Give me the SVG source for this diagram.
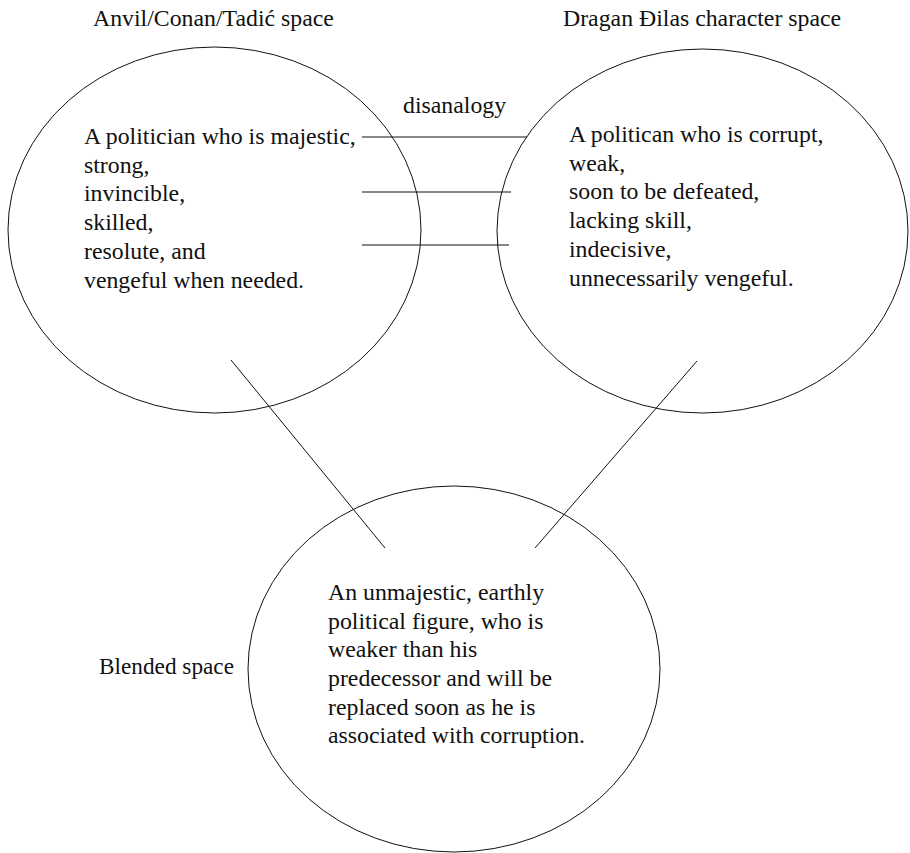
<svg xmlns="http://www.w3.org/2000/svg" width="910" height="853" viewBox="0 0 910 853">
<style>
text{font-family:"Liberation Serif","Times New Roman",serif;font-size:23.8px;fill:#111}
.e{fill:none;stroke:#111;stroke-width:1}
.c line{stroke:#111;stroke-width:1}
</style>
<rect width="910" height="853" fill="#fff"/>
<g id="left-space">
<text x="93" y="26">Anvil/Conan/Tadić space</text>
<ellipse class="e" cx="214.5" cy="230" rx="206.5" ry="183"/>
<text x="84" y="144">A politician who is majestic,</text>
<text x="84" y="173">strong,</text>
<text x="84" y="201">invincible,</text>
<text x="84" y="230">skilled,</text>
<text x="84" y="259">resolute, and</text>
<text x="84" y="288">vengeful when needed.</text>
</g>
<g id="right-space">
<text x="563" y="26">Dragan Đilas character space</text>
<ellipse class="e" cx="702.5" cy="231" rx="205.5" ry="182"/>
<text x="569" y="142">A politican who is corrupt,</text>
<text x="569" y="171">weak,</text>
<text x="569" y="199">soon to be defeated,</text>
<text x="569" y="228">lacking skill,</text>
<text x="569" y="257">indecisive,</text>
<text x="569" y="286">unnecessarily vengeful.</text>
</g>
<g id="blended-space">
<text x="99" y="674" textLength="135" lengthAdjust="spacingAndGlyphs">Blended space</text>
<ellipse class="e" cx="454" cy="669" rx="206" ry="183"/>
<text x="328" y="600">An unmajestic, earthly</text>
<text x="328" y="629">political figure, who is</text>
<text x="328" y="657">weaker than his</text>
<text x="328" y="686">predecessor and will be</text>
<text x="328" y="715">replaced soon as he is</text>
<text x="328" y="743">associated with corruption.</text>
</g>
<g id="disanalogy-label">
<text x="403" y="113">disanalogy</text>
</g>
<g class="c" id="connectors">
<line x1="362" y1="137" x2="527" y2="137"/>
<line x1="362" y1="192" x2="511" y2="192"/>
<line x1="362" y1="245" x2="509" y2="245"/>
<line x1="231" y1="360" x2="385" y2="548"/>
<line x1="697" y1="361" x2="535" y2="548"/>
</g>
</svg>
